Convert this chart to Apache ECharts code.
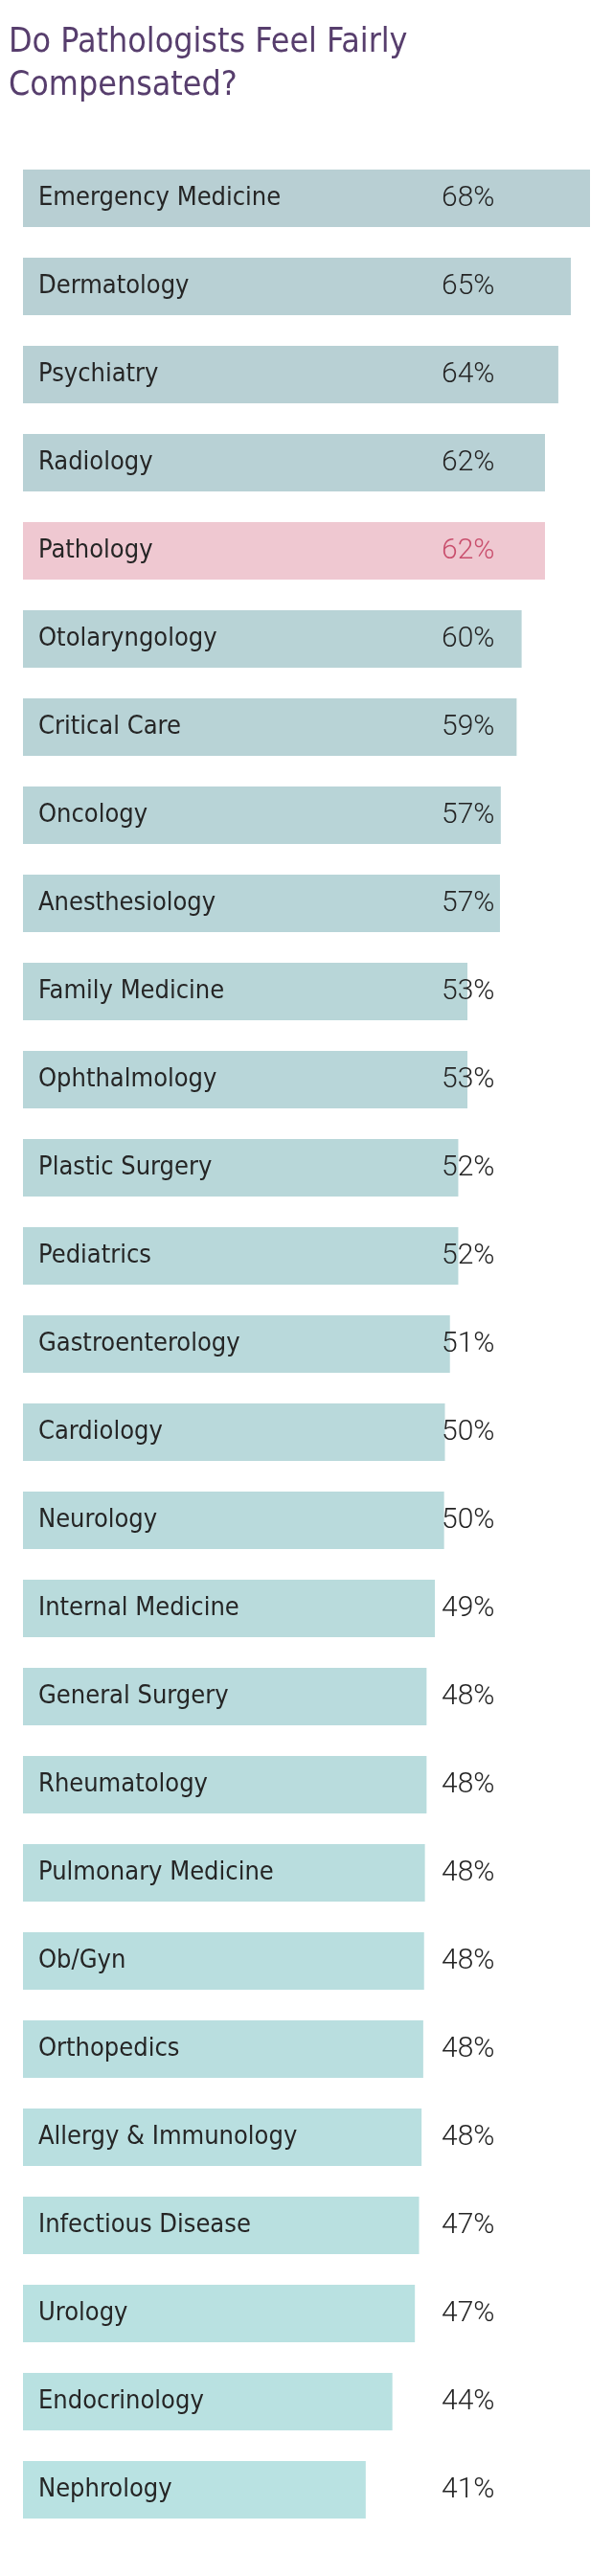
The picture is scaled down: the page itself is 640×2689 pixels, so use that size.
<!DOCTYPE html>
<html>
<head>
<meta charset="utf-8">
<script src="https://cdn.jsdelivr.net/npm/echarts@6/dist/echarts.min.js"></script>
<style>
html,body{margin:0;padding:0;background:#ffffff;}
#chart{width:640px;height:2689px;}
</style>
</head>
<body>
<div id="chart"></div>
<script>
// ---- data ----
const specialties = [
  'Emergency Medicine','Dermatology','Psychiatry','Radiology','Pathology',
  'Otolaryngology','Critical Care','Oncology','Anesthesiology','Family Medicine',
  'Ophthalmology','Plastic Surgery','Pediatrics','Gastroenterology','Cardiology',
  'Neurology','Internal Medicine','General Surgery','Rheumatology','Pulmonary Medicine',
  'Ob/Gyn','Orthopedics','Allergy & Immunology','Infectious Disease','Urology',
  'Endocrinology','Nephrology'
];
// printed percentages
const pctLabels = [68,65,64,62,62,60,59,57,57,53,53,52,52,51,50,50,49,48,48,48,48,48,48,47,47,44,41];
// bar lengths as drawn (estimated in % units)
const barValues = [68.0,65.7,64.2,62.6,62.6,59.8,59.2,57.3,57.2,53.3,53.3,52.2,52.2,51.2,50.6,50.5,49.4,48.4,48.4,48.2,48.1,48.0,47.8,47.5,47.0,44.3,41.1];
const highlight = 'Pathology';
const titleText = 'Do Pathologists Feel Fairly\nCompensated?';

// ---- styling ----
function mix(a, b, t) {
  const pa = [parseInt(a.slice(1,3),16),parseInt(a.slice(3,5),16),parseInt(a.slice(5,7),16)];
  const pb = [parseInt(b.slice(1,3),16),parseInt(b.slice(3,5),16),parseInt(b.slice(5,7),16)];
  return 'rgb(' + pa.map((v,i)=>Math.round(v+(pb[i]-v)*t)).join(',') + ')';
}
const topColor = '#b8cfd3', bottomColor = '#b9e2e2';
const condensed = "'DejaVu Sans Condensed','Liberation Sans Narrow',sans-serif";

const chart = echarts.init(document.getElementById('chart'), null, {renderer:'canvas'});
const n = specialties.length;
chart.setOption({
  backgroundColor: '#ffffff',
  animation: false,
  title: {
    text: titleText,
    left: 4,
    top: 17,
    textStyle: {fontFamily: condensed, fontSize: 35.5, fontWeight: 'normal', color: '#573e6d', lineHeight: 45}
  },
  grid: {left: 24, top: 161, width: 592, height: 2484, containLabel: false},
  xAxis: {type: 'value', min: 0, max: 68, show: false},
  yAxis: {
    type: 'category', inverse: true, data: specialties, z: 5,
    axisLine: {show: false}, axisTick: {show: false}, splitLine: {show: false},
    axisLabel: {inside: true, margin: 16, fontFamily: condensed, fontSize: 27, color: '#252525'}
  },
  series: [{
    type: 'bar',
    barWidth: 60,
    data: barValues.map((v, i) => {
      const hl = specialties[i] === highlight;
      return {
        value: v,
        itemStyle: {color: hl ? '#efc8d1' : mix(topColor, bottomColor, i / (n - 1))},
        label: {color: hl ? '#c94f6d' : '#242424'}
      };
    }),
    label: {
      show: true,
      position: [437, '50%'],
      align: 'left',
      verticalAlign: 'middle',
      fontFamily: 'Roboto',
      fontWeight: 300,
      fontSize: 30,
      formatter: p => pctLabels[p.dataIndex] + '%'
    }
  }]
});
</script>
</body>
</html>
